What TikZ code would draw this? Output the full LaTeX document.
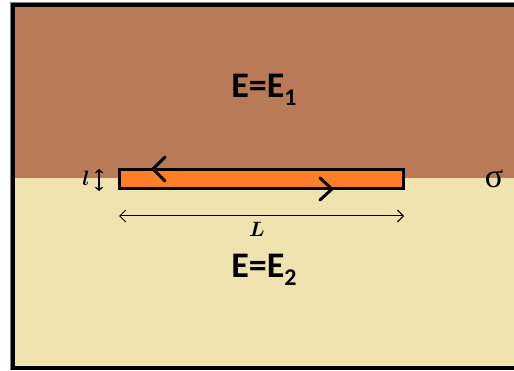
\documentclass[tikz,border=0pt]{standalone}
\usepackage{fontspec}
\newfontfamily\calib{Carlito}
\newfontfamily\serifgr{Liberation Serif}
\usetikzlibrary{arrows.meta}
\definecolor{topbrown}{RGB}{185,122,87}
\definecolor{botcream}{RGB}{239,228,176}
\definecolor{barorange}{RGB}{255,127,39}
\tikzset{
  region label/.style={font=\calib\bfseries\fontsize{36}{40}\selectfont, inner sep=0pt},
  dim label/.style={font=\boldmath\fontsize{20}{22}\selectfont, inner sep=0pt},
  chevron/.style={line width=3pt, line cap=round, line join=miter},
  dim arrow/.style={line width=1pt, {Straight Barb[length=6pt,width=12pt]}-{Straight Barb[length=6pt,width=12pt]}},
}
\begin{document}
\begin{tikzpicture}[x=1pt,y=-1pt]
\useasboundingbox (0,0) rectangle (514,371);
% regions
\fill[topbrown] (13,5) rectangle (514,178);
\fill[botcream] (13,178) rectangle (514,368);
\draw[line width=3.5pt, line join=miter] (514,5) -- (13,5) -- (13,368) -- (514,368);
\draw[gray, line width=0.8pt] (514,2.6) -- (10.6,2.6) -- (10.6,370.4);
% bar
\node[draw, line width=3pt, fill=barorange, minimum width=284pt, minimum height=19pt, inner sep=0pt] (bar) at (261,179) {};
% circulation chevrons
\coordinate (c1) at (153,169);
\coordinate (c2) at (332,189);
\draw[chevron] ([shift={(12,-12)}]c1) -- (c1) -- ([shift={(12,12)}]c1);
\draw[chevron] ([shift={(-12,-11)}]c2) -- (c2) -- ([shift={(-12,11)}]c2);
% thickness arrow
\coordinate (la) at (99,169);
\coordinate (lb) at (99,191);
\draw[line width=1.2pt, {Straight Barb[length=3pt,width=7pt]}-{Straight Barb[length=3pt,width=7pt]}] (la) -- (lb);
\node[dim label] (lsmall) at (86,178) {$l$};
% length arrow
\coordinate (La) at (119,216);
\coordinate (Lb) at (404,216);
\draw[dim arrow] (La) -- (Lb);
\node[dim label] (Lbig) at (257,229) {$L$};
% labels
\node[region label] (e1) at (264,90) {E=E\raisebox{-0.24em}{\fontsize{24}{26}\selectfont 1}};
\node[region label] (e2) at (264,270) {E=E\raisebox{-0.24em}{\fontsize{24}{26}\selectfont 2}};
\node (sigma) at (494,179) {\serifgr\fontsize{34}{36}\selectfont σ};
\end{tikzpicture}
\end{document}
